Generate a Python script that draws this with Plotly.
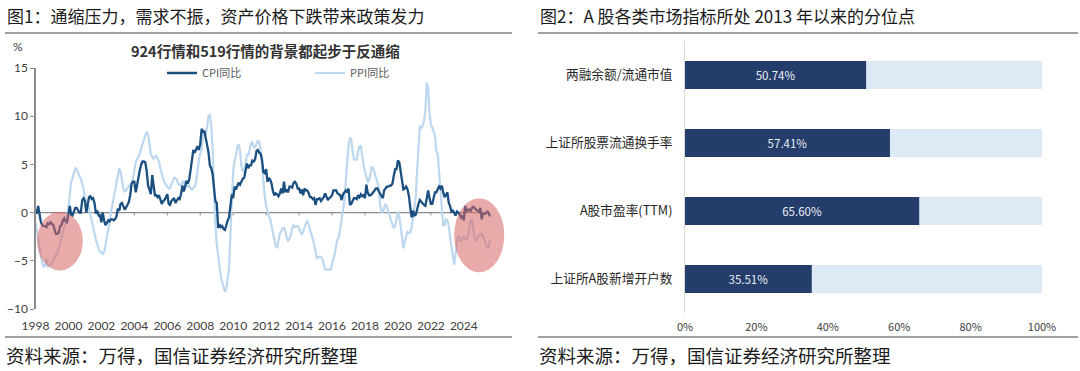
import pandas as pd
import plotly.graph_objects as go

# ---------------- data: left chart (monthly YoY, %) ----------------
START_MONTH = "1998-01-01"
CPI = [
    0.3, -0.1, 0.7, -0.3, -1.0, -1.3, -1.4, -1.4, -1.5, -1.1, -1.2, -1.0,   # 1998
    -1.2, -1.3, -1.8, -2.2, -2.2, -2.1, -1.4, -1.3, -0.8, -0.6, -0.9, -1.0,  # 1999
    -0.2, 0.7, -0.2, -0.3, 0.1, 0.5, 0.5, 0.3, 0.0, 0.0, 1.3, 1.5,          # 2000
    1.2, 0.0, 0.8, 1.6, 1.7, 1.4, 1.5, 1.0, -0.1, 0.2, -0.3, -0.3,          # 2001
    -1.0, 0.0, -0.8, -1.3, -1.1, -0.8, -0.9, -0.7, -0.7, -0.8, -0.7, -0.4,  # 2002
    0.4, 0.2, 0.9, 1.0, 0.7, 0.3, 0.5, 0.9, 1.1, 1.8, 3.0, 3.2,             # 2003
    3.2, 2.1, 3.0, 3.8, 4.4, 5.0, 5.3, 5.3, 5.2, 4.3, 2.8, 2.4,             # 2004
    1.9, 3.9, 2.7, 1.8, 1.8, 1.6, 1.8, 1.3, 0.9, 1.2, 1.3, 1.6,             # 2005
    1.9, 0.9, 0.8, 1.2, 1.4, 1.5, 1.0, 1.3, 1.5, 1.4, 1.9, 2.8,             # 2006
    2.2, 2.7, 3.3, 3.0, 3.4, 4.4, 5.6, 6.5, 6.2, 6.5, 6.9, 6.5,             # 2007
    7.1, 8.7, 8.3, 8.5, 7.7, 7.1, 6.3, 4.9, 4.6, 4.0, 2.4, 1.2,             # 2008
    1.0, -1.6, -1.2, -1.5, -1.4, -1.7, -1.8, -1.2, -0.8, -0.5, 0.6, 1.9,    # 2009
    1.5, 2.7, 2.4, 2.8, 3.1, 2.9, 3.3, 3.5, 3.6, 4.4, 5.1, 4.6,             # 2010
    4.9, 4.9, 5.4, 5.3, 5.5, 6.4, 6.5, 6.2, 6.1, 5.5, 4.2, 4.1,             # 2011
    4.5, 3.2, 3.6, 3.4, 3.0, 2.2, 1.8, 2.0, 1.9, 1.7, 2.0, 2.5,             # 2012
    2.0, 3.2, 2.1, 2.4, 2.1, 2.7, 2.7, 2.6, 3.1, 3.2, 3.0, 2.5,             # 2013
    2.5, 2.0, 2.4, 1.8, 2.5, 2.3, 2.3, 2.0, 1.6, 1.6, 1.4, 1.5,             # 2014
    0.8, 1.4, 1.4, 1.5, 1.2, 1.4, 1.6, 2.0, 1.6, 1.3, 1.5, 1.6,             # 2015
    1.8, 2.3, 2.3, 2.3, 2.0, 1.9, 1.8, 1.3, 1.9, 2.1, 2.3, 2.1,             # 2016
    2.5, 0.8, 0.9, 1.2, 1.5, 1.5, 1.4, 1.8, 1.6, 1.9, 1.7, 1.8,             # 2017
    1.5, 2.9, 2.1, 1.8, 1.8, 1.9, 2.1, 2.3, 2.5, 2.5, 2.2, 1.9,             # 2018
    1.7, 1.5, 2.3, 2.5, 2.7, 2.7, 2.8, 2.8, 3.0, 3.8, 4.5, 4.5,             # 2019
    5.4, 5.2, 4.3, 3.3, 2.4, 2.5, 2.7, 2.4, 1.7, 0.5, -0.5, 0.2,            # 2020
    -0.3, -0.2, 0.4, 0.9, 1.3, 1.1, 1.0, 0.8, 0.7, 1.5, 2.3, 1.5,           # 2021
    0.9, 0.9, 1.5, 2.1, 2.1, 2.5, 2.7, 2.5, 2.8, 2.1, 1.6, 1.8,             # 2022
    2.1, 1.0, 0.7, 0.1, 0.2, 0.0, -0.3, 0.1, 0.0, -0.2, -0.5, -0.3,         # 2023
    -0.8, 0.7, 0.1, 0.3, 0.3, 0.2, 0.5, 0.6, 0.4, 0.3, 0.2, 0.1,            # 2024
    0.5, -0.7, -0.1, -0.1, -0.1, 0.1, 0.0, -0.4,                            # 2025
]
PPI = [
    -1.0, -2.0, -3.0, -3.8, -4.5, -5.2, -5.6, -5.5, -4.8, -5.6, -5.5, -5.4,  # 1998
    -5.2, -4.9, -4.6, -4.4, -4.2, -3.6, -3.1, -2.7, -2.0, -1.5, -1.0, -0.5,  # 1999
    0.5, 2.0, 3.2, 3.6, 4.0, 4.6, 4.5, 4.2, 3.8, 3.5, 3.0, 2.5,             # 2000
    1.5, 1.2, 1.0, 0.4, -0.3, -1.0, -1.7, -2.2, -2.8, -3.3, -3.8, -4.1,     # 2001
    -4.1, -4.3, -4.1, -3.5, -2.5, -1.8, -1.0, 0.0, 0.8, 1.5, 2.2, 3.0,      # 2002
    3.8, 4.6, 4.3, 3.2, 2.5, 2.2, 2.3, 2.5, 2.8, 2.7, 3.0, 3.5,             # 2003
    4.5, 5.2, 5.6, 5.7, 6.2, 6.7, 7.0, 7.5, 8.0, 8.4, 8.1, 7.1,             # 2004
    6.0, 5.8, 5.6, 5.8, 5.9, 5.6, 5.3, 4.6, 3.9, 3.5, 3.1, 2.9,             # 2005
    2.6, 2.5, 2.5, 2.9, 3.3, 3.6, 3.6, 3.4, 3.0, 2.9, 2.8, 3.1,             # 2006
    3.3, 2.6, 2.7, 2.8, 2.8, 2.5, 2.4, 2.6, 2.7, 3.2, 4.6, 5.4,             # 2007
    6.1, 6.6, 8.0, 8.1, 8.2, 8.8, 10.0, 10.1, 9.1, 6.6, 2.0, -1.1,          # 2008
    -3.3, -4.5, -6.0, -6.6, -7.2, -7.8, -8.2, -7.9, -7.0, -5.8, -2.1, 1.7,  # 2009
    4.3, 5.4, 5.9, 6.8, 7.1, 6.4, 4.8, 4.3, 4.3, 5.0, 6.1, 5.9,             # 2010
    6.6, 7.2, 7.3, 6.8, 6.8, 7.1, 7.5, 7.3, 6.5, 5.0, 2.7, 1.7,             # 2011
    0.7, 0.0, -0.3, -0.7, -1.4, -2.1, -2.9, -3.5, -3.6, -2.8, -2.2, -1.9,   # 2012
    -1.6, -1.6, -1.9, -2.6, -2.9, -2.7, -2.3, -1.6, -1.3, -1.5, -1.4, -1.4, # 2013
    -1.6, -2.0, -2.3, -2.0, -1.4, -1.1, -0.9, -1.2, -1.8, -2.2, -2.7, -3.3, # 2014
    -4.3, -4.8, -4.6, -4.6, -4.6, -4.8, -5.4, -5.9, -5.9, -5.9, -5.9, -5.9, # 2015
    -5.3, -4.9, -4.3, -3.4, -2.8, -2.6, -1.7, -0.8, 0.1, 1.2, 3.3, 5.5,     # 2016
    6.9, 7.8, 7.6, 6.4, 5.5, 5.5, 5.5, 6.3, 6.9, 6.9, 5.8, 4.9,             # 2017
    4.3, 3.7, 3.1, 3.4, 4.1, 4.7, 4.6, 4.1, 3.6, 3.3, 2.7, 0.9,             # 2018
    0.1, 0.1, 0.4, 0.9, 0.6, 0.0, -0.3, -0.8, -1.2, -1.6, -1.4, -0.5,       # 2019
    0.1, -0.4, -1.5, -3.1, -3.7, -3.0, -2.4, -2.0, -2.1, -2.1, -1.5, -0.4,  # 2020
    0.3, 1.7, 4.4, 6.8, 9.0, 8.8, 9.0, 9.5, 10.7, 13.5, 12.9, 10.3,         # 2021
    9.1, 8.8, 8.3, 8.0, 6.4, 6.1, 4.2, 2.3, 0.9, -1.3, -1.3, -0.7,          # 2022
    -0.8, -1.4, -2.5, -3.6, -4.6, -5.4, -4.4, -3.0, -2.5, -2.6, -3.0, -2.7, # 2023
    -2.5, -2.7, -2.8, -2.5, -1.4, -0.8, -0.8, -1.8, -2.8, -2.9, -2.5, -2.3, # 2024
    -2.3, -2.2, -2.5, -2.7, -3.3, -3.6, -3.6, -2.9,                         # 2025
]
X_TICK_YEARS = list(range(1998, 2025, 2))
Y_TICKS = [-10, -5, 0, 5, 10, 15]

# ---------------- data: right chart (percentile since 2013, %) ----------------
INDICATORS = ["两融余额/流通市值", "上证所股票流通换手率", "A股市盈率(TTM)", "上证所A股新增开户数"]
PERCENTILES = [50.74, 57.41, 65.60, 35.51]
FULL_SCALE = 100
X2_TICKS = [0, 20, 40, 60, 80, 100]

# ---------------- texts ----------------
TITLE_L = "图1：通缩压力，需求不振，资产价格下跌带来政策发力"
TITLE_R = "图2：A 股各类市场指标所处 2013 年以来的分位点"
SUBTITLE_L = "924行情和519行情的背景都起步于反通缩"
SOURCE = "资料来源：万得，国信证券经济研究所整理"

# highlight ellipses (annotation decoration): (x0, x1, y0, y1)
HIGHLIGHTS = [("1998-02-05", "2000-11-15", 0.1, -6.0),
              ("2023-06-01", "2026-06-15", 1.5, -6.2)]

W, H = 1080, 371
CJK = "Noto Sans CJK SC"
NUM = "Lato"

def px_x(p):
    return p / W

def px_y(p):
    return 1 - p / H

dates = pd.date_range(START_MONTH, periods=len(CPI), freq="MS")

fig = go.Figure()
fig.add_trace(go.Scatter(x=dates, y=PPI[:len(dates)], mode="lines", name="PPI同比",
                         line=dict(color="#bdd7ee", width=2.2),
                         xaxis="x", yaxis="y", legend="legend2"))
fig.add_trace(go.Scatter(x=dates, y=CPI, mode="lines", name="CPI同比",
                         line=dict(color="#1b4f80", width=2.3),
                         xaxis="x", yaxis="y", legend="legend"))

fig.add_trace(go.Bar(y=INDICATORS, x=[FULL_SCALE] * len(INDICATORS), orientation="h",
                     marker=dict(color="#dde9f5", line=dict(width=0)), width=0.41,
                     xaxis="x2", yaxis="y2", showlegend=False, hoverinfo="skip"))
fig.add_trace(go.Bar(y=INDICATORS, x=PERCENTILES, orientation="h",
                     marker=dict(color="#253d6a", line=dict(width=0)), width=0.41,
                     text=[f"{v:.2f}%" for v in PERCENTILES], textposition="inside",
                     insidetextanchor="middle",
                     textfont=dict(color="#e8edf5", size=11.5, family=CJK),
                     xaxis="x2", yaxis="y2", showlegend=False, hoverinfo="skip"))

shapes = []
# zero line with small ticks
shapes.append(dict(type="line", xref="x", yref="y", x0=dates[0], x1=dates[-1], y0=0, y1=0,
                   line=dict(color="#8c8c8c", width=1.2), layer="below"))
for yr in X_TICK_YEARS[1:]:
    shapes.append(dict(type="line", xref="x", yref="y", x0=f"{yr}-01-01", x1=f"{yr}-01-01",
                       y0=0, y1=-0.3, line=dict(color="#8c8c8c", width=1), layer="below"))
for x0, x1, y0, y1 in HIGHLIGHTS:
    shapes.append(dict(type="circle", xref="x", yref="y", x0=x0, x1=x1, y0=y0, y1=y1,
                       fillcolor="rgba(215,100,100,0.55)", line=dict(width=0), layer="above"))
# header/footer rules
for (a, b) in [(5, 512), (538, 1078)]:
    for yy in (33, 337):
        shapes.append(dict(type="line", xref="paper", yref="paper",
                           x0=px_x(a), x1=px_x(b), y0=px_y(yy), y1=px_y(yy),
                           line=dict(color="#7f7f7f", width=1.5)))

annotations = [
    dict(text=TITLE_L, x=px_x(5), y=px_y(16), xref="paper", yref="paper",
         xanchor="left", yanchor="middle", showarrow=False,
         font=dict(family=CJK, size=17, color="#1a1a1a")),
    dict(text=TITLE_R, x=px_x(538), y=px_y(16), xref="paper", yref="paper",
         xanchor="left", yanchor="middle", showarrow=False,
         font=dict(family=CJK, size=17, color="#1a1a1a")),
    dict(text=SOURCE, x=px_x(4), y=px_y(355), xref="paper", yref="paper",
         xanchor="left", yanchor="middle", showarrow=False,
         font=dict(family=CJK, size=18.5, color="#1a1a1a")),
    dict(text=SOURCE, x=px_x(537), y=px_y(355), xref="paper", yref="paper",
         xanchor="left", yanchor="middle", showarrow=False,
         font=dict(family=CJK, size=18.5, color="#1a1a1a")),
    dict(text="<b>" + SUBTITLE_L + "</b>", x=px_x(265), y=px_y(50), xref="paper", yref="paper",
         xanchor="center", yanchor="middle", showarrow=False,
         font=dict(family=CJK, size=14.5, color="#333333")),
    dict(text="%", x=px_x(18), y=px_y(47), xref="paper", yref="paper",
         xanchor="center", yanchor="middle", showarrow=False,
         font=dict(family=NUM, size=12, color="#404040")),
]

fig.update_layout(
    width=W, height=H,
    margin=dict(l=0, r=0, t=0, b=0, autoexpand=False),
    paper_bgcolor="white", plot_bgcolor="white",
    font=dict(family=CJK, color="#404040"),
    barmode="overlay",
    hovermode=False,
    xaxis=dict(domain=[px_x(35.5), px_x(507)], type="date",
               range=["1998-01-01", "2026-08-15"],
               tickvals=[f"{y}-01-01" for y in X_TICK_YEARS],
               ticktext=[str(y) for y in X_TICK_YEARS],
               showline=False, showgrid=False, zeroline=False, ticks="",
               tickfont=dict(family=NUM, size=12, color="#404040"),
               ticklabelstandoff=8, anchor="y", automargin=False),
    yaxis=dict(domain=[1 - 309 / H, 1 - 68 / H], range=[-10, 15], tickvals=Y_TICKS,
               showline=True, linecolor="#8c8c8c", linewidth=1.2,
               ticks="outside", ticklen=4, tickcolor="#8c8c8c",
               showgrid=False, zeroline=False,
               tickfont=dict(family=NUM, size=12, color="#404040"), anchor="x",
               automargin=False),
    xaxis2=dict(domain=[px_x(685), px_x(1042)], range=[0, FULL_SCALE],
                tickvals=X2_TICKS, ticktext=[f"{t}%" for t in X2_TICKS],
                showline=False, showgrid=False, zeroline=False, ticks="",
                tickfont=dict(family=CJK, size=11, color="#404040"),
                ticklabelstandoff=6, anchor="y2", automargin=False),
    yaxis2=dict(domain=[1 - 313 / H, 1 - 41 / H], autorange="reversed",
                showline=True, linecolor="#d9d9d9", linewidth=1,
                showgrid=False, zeroline=False, ticks="",
                tickfont=dict(family=CJK, size=12.7, color="#262626"),
                ticklabelstandoff=9, anchor="x2", automargin=False),
    legend=dict(x=px_x(162), y=px_y(73), xanchor="left", yanchor="middle",
                orientation="h", bgcolor="rgba(0,0,0,0)",
                font=dict(family=CJK, size=11, color="#595959")),
    legend2=dict(x=px_x(310), y=px_y(73), xanchor="left", yanchor="middle",
                 orientation="h", bgcolor="rgba(0,0,0,0)",
                 font=dict(family=CJK, size=11, color="#595959")),
    shapes=shapes,
    annotations=annotations,
)

fig.write_html("out.html", config={"displayModeBar": False, "staticPlot": True},
               post_script="document.body.style.margin='0';document.body.style.overflow='hidden';")
